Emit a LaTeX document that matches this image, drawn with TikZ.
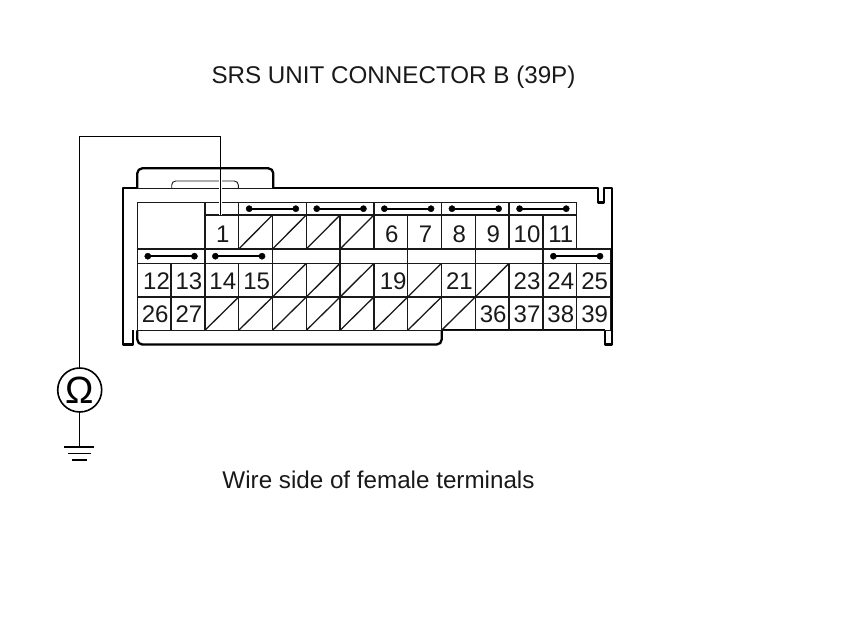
\documentclass[tikz,border=0pt]{standalone}
\usepackage{fontspec}
\setmainfont{Liberation Sans}
\definecolor{inkgray}{gray}{0.1}
\tikzset{
  grid line/.style={draw=inkgray, line width=1.3pt},
  body line/.style={draw=black, line width=2.3pt, line join=round},
  thin line/.style={draw=inkgray, line width=0.9pt},
  wire/.style={draw=black, line width=0.9pt},
  pin label/.style={font=\fontsize{24}{24}\selectfont, inner sep=0pt, text=inkgray, text height=17pt, text depth=0pt, xshift=1pt},
  caption label/.style={font=\fontsize{24.2}{26}\selectfont, inner sep=0pt, text=inkgray},
}
\newcommand{\jumper}[3]{%
  \draw[black, line width=2pt] (#1+0.31,#3) -- (#2-0.31,#3);
  \filldraw[black] (#1+0.31,#3) circle (3.1pt);
  \filldraw[black] (#2-0.31,#3) circle (3.1pt);
}
\begin{document}
\begin{tikzpicture}[x=1pt,y=-1pt]
\useasboundingbox (0,0) rectangle (860,629);

\node[caption label] (title) at (393.5,77.5) {SRS UNIT CONNECTOR B (39P)};
\node[caption label] (side) at (378.5,480) {Wire side of female terminals};

% outer shell
\draw[body line] (132.7,330) -- (132.7,344.5) -- (123.3,344.5) -- (123.3,188.3) -- (137.3,188.3);
\draw[body line, rounded corners=5pt] (137.3,188.3) -- (137.3,168.3) -- (273.3,168.3) -- (273.3,188.3);
\draw[body line] (273.3,188.3) -- (598.3,188.3) -- (598.3,202.5) -- (604.3,202.5) -- (604.3,188.3) -- (612,188.3) -- (612,344.5) -- (605,344.5) -- (605,330.3);
\draw[body line, rounded corners=5pt] (137.3,330.3) -- (137.3,344.5) -- (441.7,344.5) -- (441.7,330.3);
\draw[body line] (441.7,330.3) -- (605,330.3);
\draw[thin line] (137.3,188.3) -- (273.3,188.3);
\draw[thin line, rounded corners=4pt] (171.7,188.3) -- (171.7,181) -- (238.3,181) -- (238.3,188.3);

\begin{scope}[xshift=137.3pt, x=33.8pt]
% cell rows
\draw[grid line] (0,202.3) rectangle (2,249);
\draw[grid line] (2,202.3) -- (13,202.3) -- (13,249);
\draw[grid line] (2,215) -- (13,215);
\draw[grid line] (0,249) -- (14,249);
\draw[grid line] (0,263.3) -- (14,263.3);
\draw[grid line] (0,297) -- (14,297);
\draw[grid line] (0,330.3) -- (14,330.3);
\foreach \k in {2,3,5,7,9,11,13} {
  \draw[grid line] (\k,202.3) -- (\k,215);
}
\foreach \k in {2,...,12} {
  \draw[grid line] (\k,215) -- (\k,249);
}
\foreach \k in {0,2,4,...,14} {
  \draw[grid line] (\k,249) -- (\k,263.3);
}
\foreach \k in {0,...,14} {
  \draw[grid line] (\k,263.3) -- (\k,330.3);
}

% empty terminals
\foreach \k in {3,...,6} {
  \draw[grid line] (\k,249) -- (\k+1,215);
}
\foreach \k in {4,5,6,8,10} {
  \draw[grid line] (\k,297) -- (\k+1,263.3);
}
\foreach \k in {2,...,9} {
  \draw[grid line] (\k,330.3) -- (\k+1,297);
}

% shorting bars
\foreach \a/\b in {3/5,5/7,7/9,9/11,11/13} {
  \jumper{\a}{\b}{208.7}
}
\foreach \a/\b in {0/2,2/4,12/14} {
  \jumper{\a}{\b}{256.2}
}

% terminal numbers
\foreach \k/\t in {2/1,7/6,8/7,9/8,10/9,11/10,12/11} {
  \node[pin label] (pin\t) at (\k+0.5,234) {\t};
}
\foreach \k/\t in {0.04/12,1/13,2/14,3/15,7.04/19,9/21,11/23,12/24,13/25} {
  \node[pin label] (pin\t) at (\k+0.5,281) {\t};
}
\foreach \k/\t in {0/26,1/27,10/36,11/37,12/38,13/39} {
  \node[pin label] (pin\t) at (\k+0.5,314) {\t};
}
\end{scope}

% meter lead
\coordinate (wiretop) at (220.7,215);
\coordinate (wirebend) at (79.7,136);
\coordinate (groundtop) at (79.7,446.7);
\node[draw=black, line width=1.6pt, circle, minimum size=44pt, inner sep=0pt, font=\fontsize{38}{38}\selectfont] (ohm) at (79.7,390) {Ω};
\draw[draw=white, line width=3pt] (wiretop) -- (220.7,170);
\draw[wire] (wiretop) |- (wirebend) -- (ohm);
\draw[wire] (ohm) -- (groundtop);
\draw[black, line width=2pt] (64.3,446.7) -- (94.3,446.7);
\draw[black, line width=1.5pt] (68.3,453.4) -- (90.7,453.4);
\draw[black, line width=1.5pt] (72.3,460) -- (86.7,460);
\end{tikzpicture}
\end{document}
